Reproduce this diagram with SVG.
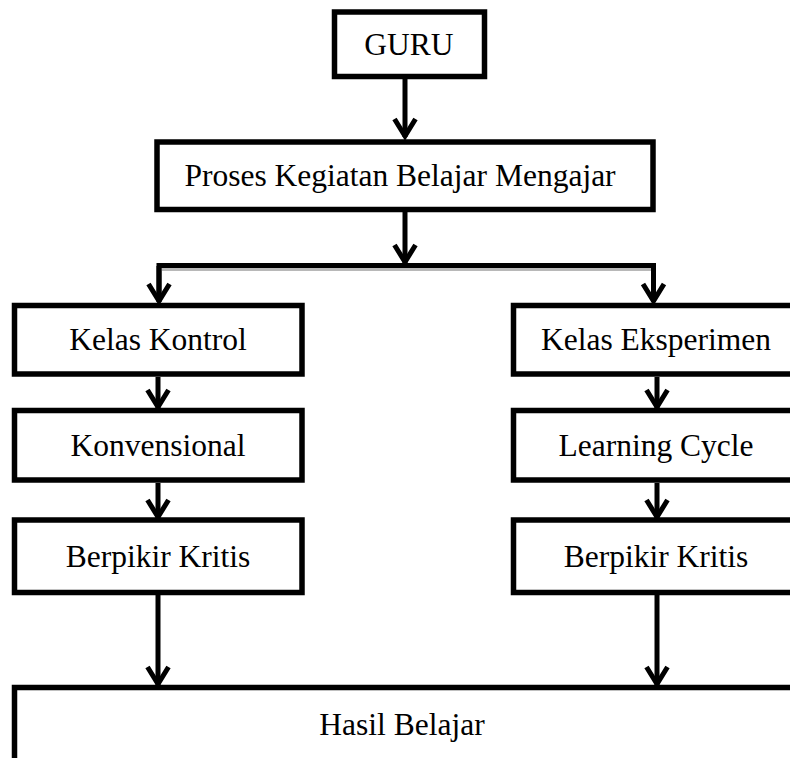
<svg xmlns="http://www.w3.org/2000/svg" width="790" height="758" viewBox="0 0 790 758">
<style>
.box{fill:#fff;stroke:#000;stroke-width:5.5}
.t{font-family:"Liberation Serif","Times New Roman",serif;font-size:31.5px;fill:#000;text-anchor:middle}
.ln{fill:none;stroke:#000;stroke-width:5}
</style>
<defs>
<marker id="v" markerUnits="userSpaceOnUse" markerWidth="30" markerHeight="30" refX="23" refY="15" orient="auto" viewBox="0 0 30 30">
<path d="M5 4.5 L22 15 L5 25.5" fill="none" stroke="#000" stroke-width="5"/>
</marker>
</defs>
<rect width="790" height="758" fill="#fff"/>
<g id="connectors">
<line class="ln" x1="405" y1="79" x2="405" y2="137" marker-end="url(#v)"/>
<line class="ln" x1="405" y1="212" x2="405" y2="263" marker-end="url(#v)"/>
<line x1="162" y1="269.5" x2="651" y2="269.5" stroke="#b8b8b8" stroke-width="3"/>
<path class="ln" d="M159 300 V265.5 H653.5 V300"/>
<line class="ln" x1="159" y1="266" x2="159" y2="302" marker-end="url(#v)"/>
<line class="ln" x1="653.5" y1="266" x2="653.5" y2="302" marker-end="url(#v)"/>
<line class="ln" x1="158" y1="377" x2="158" y2="408" marker-end="url(#v)"/>
<line class="ln" x1="158" y1="483" x2="158" y2="518" marker-end="url(#v)"/>
<line class="ln" x1="158" y1="595" x2="158" y2="685" marker-end="url(#v)"/>
<line class="ln" x1="657" y1="377" x2="657" y2="408" marker-end="url(#v)"/>
<line class="ln" x1="657" y1="483" x2="657" y2="518" marker-end="url(#v)"/>
<line class="ln" x1="657" y1="595" x2="657" y2="685" marker-end="url(#v)"/>
</g>
<g id="guru">
<rect class="box" x="334.5" y="12" width="150" height="64.5"/>
<text class="t" x="409" y="55">GURU</text>
</g>
<g id="proses">
<rect class="box" x="157" y="142" width="496" height="67.5"/>
<text class="t" x="400" y="186">Proses Kegiatan Belajar Mengajar</text>
</g>
<g id="kelas-kontrol">
<rect class="box" x="14.5" y="305.5" width="287.5" height="68.5"/>
<text class="t" x="158" y="350">Kelas Kontrol</text>
</g>
<g id="konvensional">
<rect class="box" x="14.5" y="410.5" width="287.5" height="69.5"/>
<text class="t" x="158" y="456">Konvensional</text>
</g>
<g id="berpikir-kritis-kontrol">
<rect class="box" x="14.5" y="520" width="287.5" height="72.5"/>
<text class="t" x="158" y="567">Berpikir Kritis</text>
</g>
<g id="kelas-eksperimen">
<rect class="box" x="513.5" y="305.5" width="290" height="68.5"/>
<text class="t" x="656" y="350">Kelas Eksperimen</text>
</g>
<g id="learning-cycle">
<rect class="box" x="513.5" y="410.5" width="290" height="69.5"/>
<text class="t" x="656" y="456">Learning Cycle</text>
</g>
<g id="berpikir-kritis-eksperimen">
<rect class="box" x="513.5" y="520" width="290" height="72.5"/>
<text class="t" x="656" y="567">Berpikir Kritis</text>
</g>
<g id="hasil-belajar">
<rect class="box" x="14.5" y="687.5" width="800" height="100"/>
<text class="t" x="402" y="735">Hasil Belajar</text>
</g>
</svg>
